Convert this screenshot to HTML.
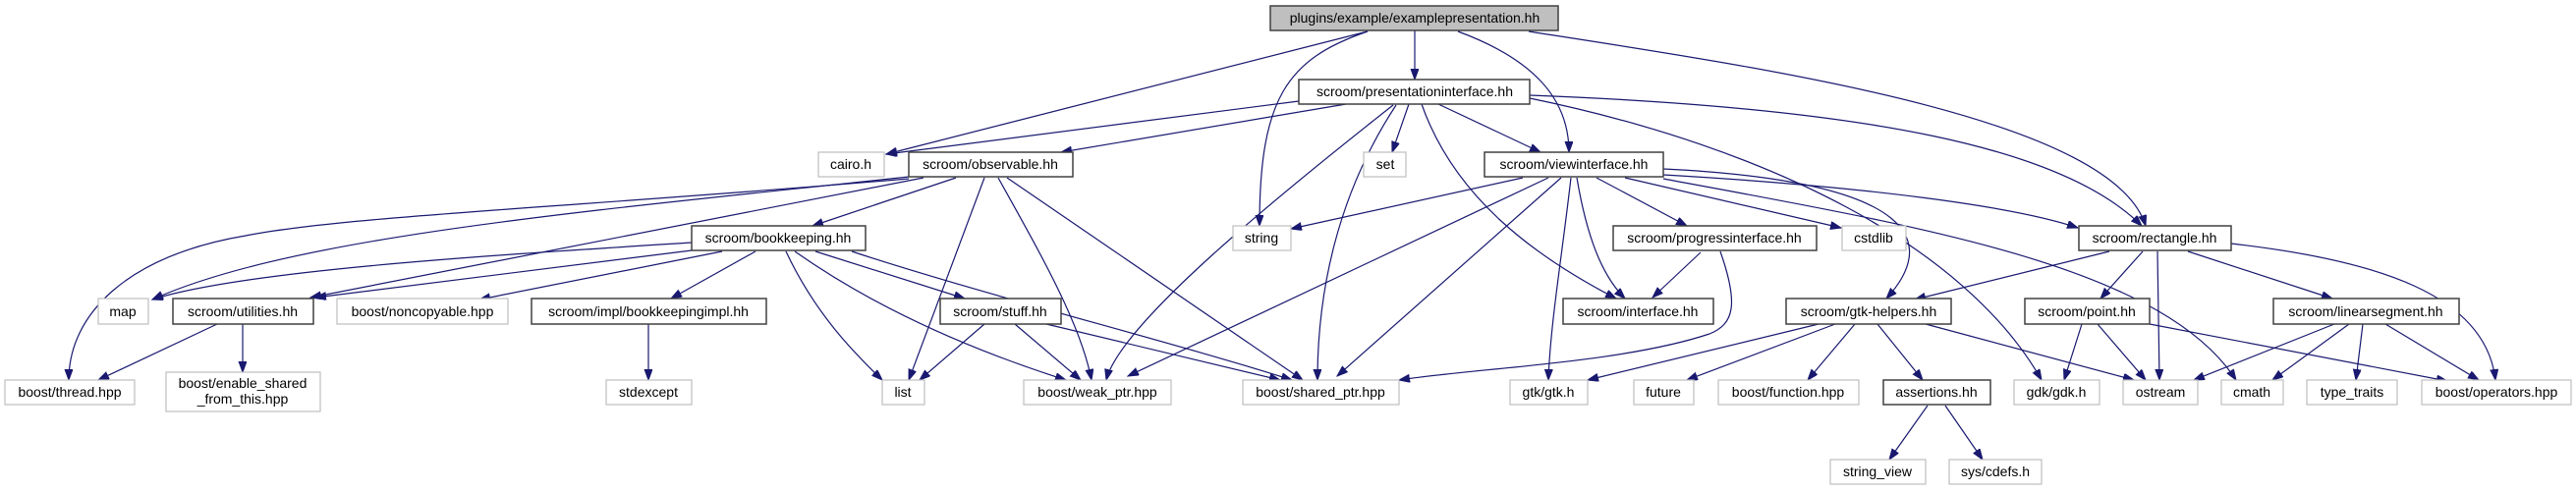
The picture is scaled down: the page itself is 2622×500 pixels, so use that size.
<!DOCTYPE html>
<html><head><meta charset="utf-8">
<style>
html,body{margin:0;padding:0;background:#fff;}
svg{display:block;}
</style></head>
<body>
<svg xmlns="http://www.w3.org/2000/svg" width="2622" height="500" viewBox="0 0 2622 500">
<defs>
<marker id="ah" markerUnits="userSpaceOnUse" markerWidth="12" markerHeight="10" refX="11" refY="4" orient="auto">
<path d="M0,0 L11,4 L0,8 z" fill="#191970" stroke="#191970"/>
</marker>
</defs>
<g fill="none" stroke="#191970" stroke-width="1.2" marker-end="url(#ah)">
<path d="M1392,32 L902,157"/>
<path d="M1392,32 C1310,60 1282,100 1282,230"/>
<path d="M1440,31 L1440,81"/>
<path d="M1484,32 C1560,60 1597,100 1597,155"/>
<path d="M1556,32 C1800,70 2150,120 2184,230"/>
<path d="M1322,103 L902,157"/>
<path d="M1370,106 L1080,155"/>
<path d="M1418,107 C1300,200 1140,330 1126,387"/>
<path d="M1421,107 C1360,200 1341,300 1341,387"/>
<path d="M1434,106 L1417,155"/>
<path d="M1447,106 C1480,200 1560,260 1645,304"/>
<path d="M1464,106 L1568,155"/>
<path d="M1557,97 C1900,110 2100,150 2180,230"/>
<path d="M1557,100 C1800,150 2000,250 2078,387"/>
<path d="M925,180 C600,215 300,240 155,305"/>
<path d="M925,182 C600,210 350,220 250,240 C130,260 70,320 70,387"/>
<path d="M940,181 L316,303"/>
<path d="M973,181 L827,230"/>
<path d="M1002,181 L925,387"/>
<path d="M1016,181 C1060,260 1100,330 1111,387"/>
<path d="M1025,181 L1326,387"/>
<path d="M704,247 C500,260 250,275 155,305"/>
<path d="M704,255 L321,303"/>
<path d="M735,256 L488,305"/>
<path d="M769,256 L683,304"/>
<path d="M800,256 C830,320 870,360 898,387"/>
<path d="M830,256 L982,304"/>
<path d="M809,256 C900,320 1000,360 1085,387"/>
<path d="M867,256 C1000,300 1200,350 1315,387"/>
<path d="M221,330 L100,387"/>
<path d="M247,330 L247,379"/>
<path d="M660,330 L660,387"/>
<path d="M1002,330 L936,387"/>
<path d="M1033,330 L1100,387"/>
<path d="M1065,330 L1303,387"/>
<path d="M1550,181 L1314,233"/>
<path d="M1576,181 L1148,383"/>
<path d="M1589,181 L1361,383"/>
<path d="M1599,181 C1590,260 1578,330 1576,387"/>
<path d="M1605,181 C1615,240 1630,280 1654,304"/>
<path d="M1625,181 L1717,230"/>
<path d="M1654,181 L1874,232"/>
<path d="M1693,178 C1900,190 2050,210 2115,232"/>
<path d="M1693,172 C1960,185 1970,250 1920,304"/>
<path d="M1693,182 C1950,230 2200,270 2276,387"/>
<path d="M1731,257 L1682,303"/>
<path d="M1751,256 C1770,310 1765,330 1740,340 C1650,370 1500,375 1424,387"/>
<path d="M2147,256 L1949,305"/>
<path d="M2181,256 L2138,304"/>
<path d="M2196,256 L2198,387"/>
<path d="M2227,256 L2374,304"/>
<path d="M2271,248 C2420,265 2530,300 2540,387"/>
<path d="M1851,330 L1616,387"/>
<path d="M1868,330 L1717,387"/>
<path d="M1888,330 L1840,387"/>
<path d="M1911,330 L1957,387"/>
<path d="M1960,330 L2172,387"/>
<path d="M2119,330 L2101,387"/>
<path d="M2135,330 L2184,387"/>
<path d="M2188,330 L2491,388"/>
<path d="M2376,330 L2233,387"/>
<path d="M2391,330 L2313,387"/>
<path d="M2405,330 L2398,387"/>
<path d="M2428,330 L2523,387"/>
<path d="M1962,413 L1923,468"/>
<path d="M1980,413 L2018,468"/>
</g>
<g fill="#fff" stroke="#404040" stroke-width="1.5">
<rect x="1293" y="6" width="293" height="25" fill="#bfbfbf"/>
<rect x="1322" y="81" width="235" height="25"/>
<rect x="925" y="155" width="167" height="25"/>
<rect x="1511" y="155" width="182" height="25"/>
<rect x="704" y="230" width="177" height="25"/>
<rect x="1642" y="230" width="207" height="25"/>
<rect x="2116" y="230" width="155" height="25"/>
<rect x="176" y="304" width="143" height="26"/>
<rect x="541" y="304" width="239" height="26"/>
<rect x="957" y="304" width="123" height="26"/>
<rect x="1591" y="304" width="153" height="26"/>
<rect x="1818" y="304" width="168" height="26"/>
<rect x="2061" y="304" width="127" height="26"/>
<rect x="2314" y="304" width="189" height="26"/>
<rect x="1917" y="387" width="109" height="25"/>
</g>
<g fill="#fff" stroke="#bfbfbf" stroke-width="1.2">
<rect x="833" y="155" width="67" height="25"/>
<rect x="1388" y="155" width="43" height="25"/>
<rect x="1255" y="230" width="59" height="25"/>
<rect x="1875" y="230" width="65" height="25"/>
<rect x="100" y="304" width="51" height="26"/>
<rect x="343" y="304" width="174" height="26"/>
<rect x="5" y="387" width="132" height="25"/>
<rect x="169" y="379" width="157" height="40"/>
<rect x="617" y="387" width="87" height="25"/>
<rect x="898" y="387" width="43" height="25"/>
<rect x="1042" y="387" width="150" height="25"/>
<rect x="1265" y="387" width="159" height="25"/>
<rect x="1537" y="387" width="79" height="25"/>
<rect x="1663" y="387" width="61" height="25"/>
<rect x="1749" y="387" width="143" height="25"/>
<rect x="2050" y="387" width="87" height="25"/>
<rect x="2161" y="387" width="76" height="25"/>
<rect x="2261" y="387" width="63" height="25"/>
<rect x="2348" y="387" width="92" height="25"/>
<rect x="2465" y="387" width="152" height="25"/>
<rect x="1863" y="468" width="97" height="25"/>
<rect x="1984" y="468" width="94" height="25"/>
</g>
<g font-family="Liberation Sans, sans-serif" font-size="14" text-anchor="middle" fill="#000">
<text x="1440" y="23">plugins/example/examplepresentation.hh</text>
<text x="1440" y="98">scroom/presentationinterface.hh</text>
<text x="866" y="172">cairo.h</text>
<text x="1008" y="172">scroom/observable.hh</text>
<text x="1410" y="172">set</text>
<text x="1602" y="172">scroom/viewinterface.hh</text>
<text x="792" y="247">scroom/bookkeeping.hh</text>
<text x="1284" y="247">string</text>
<text x="1745" y="247">scroom/progressinterface.hh</text>
<text x="1907" y="247">cstdlib</text>
<text x="2193" y="247">scroom/rectangle.hh</text>
<text x="125" y="322">map</text>
<text x="247" y="322">scroom/utilities.hh</text>
<text x="430" y="322">boost/noncopyable.hpp</text>
<text x="660" y="322">scroom/impl/bookkeepingimpl.hh</text>
<text x="1018" y="322">scroom/stuff.hh</text>
<text x="1667" y="322">scroom/interface.hh</text>
<text x="1902" y="322">scroom/gtk-helpers.hh</text>
<text x="2124" y="322">scroom/point.hh</text>
<text x="2408" y="322">scroom/linearsegment.hh</text>
<text x="71" y="404">boost/thread.hpp</text>
<text x="247" y="395">boost/enable_shared</text>
<text x="247" y="411">_from_this.hpp</text>
<text x="660" y="404">stdexcept</text>
<text x="919" y="404">list</text>
<text x="1117" y="404">boost/weak_ptr.hpp</text>
<text x="1344" y="404">boost/shared_ptr.hpp</text>
<text x="1576" y="404">gtk/gtk.h</text>
<text x="1693" y="404">future</text>
<text x="1820" y="404">boost/function.hpp</text>
<text x="1971" y="404">assertions.hh</text>
<text x="2093" y="404">gdk/gdk.h</text>
<text x="2199" y="404">ostream</text>
<text x="2292" y="404">cmath</text>
<text x="2394" y="404">type_traits</text>
<text x="2541" y="404">boost/operators.hpp</text>
<text x="1911" y="485">string_view</text>
<text x="2031" y="485">sys/cdefs.h</text>
</g>
</svg>
</body></html>
